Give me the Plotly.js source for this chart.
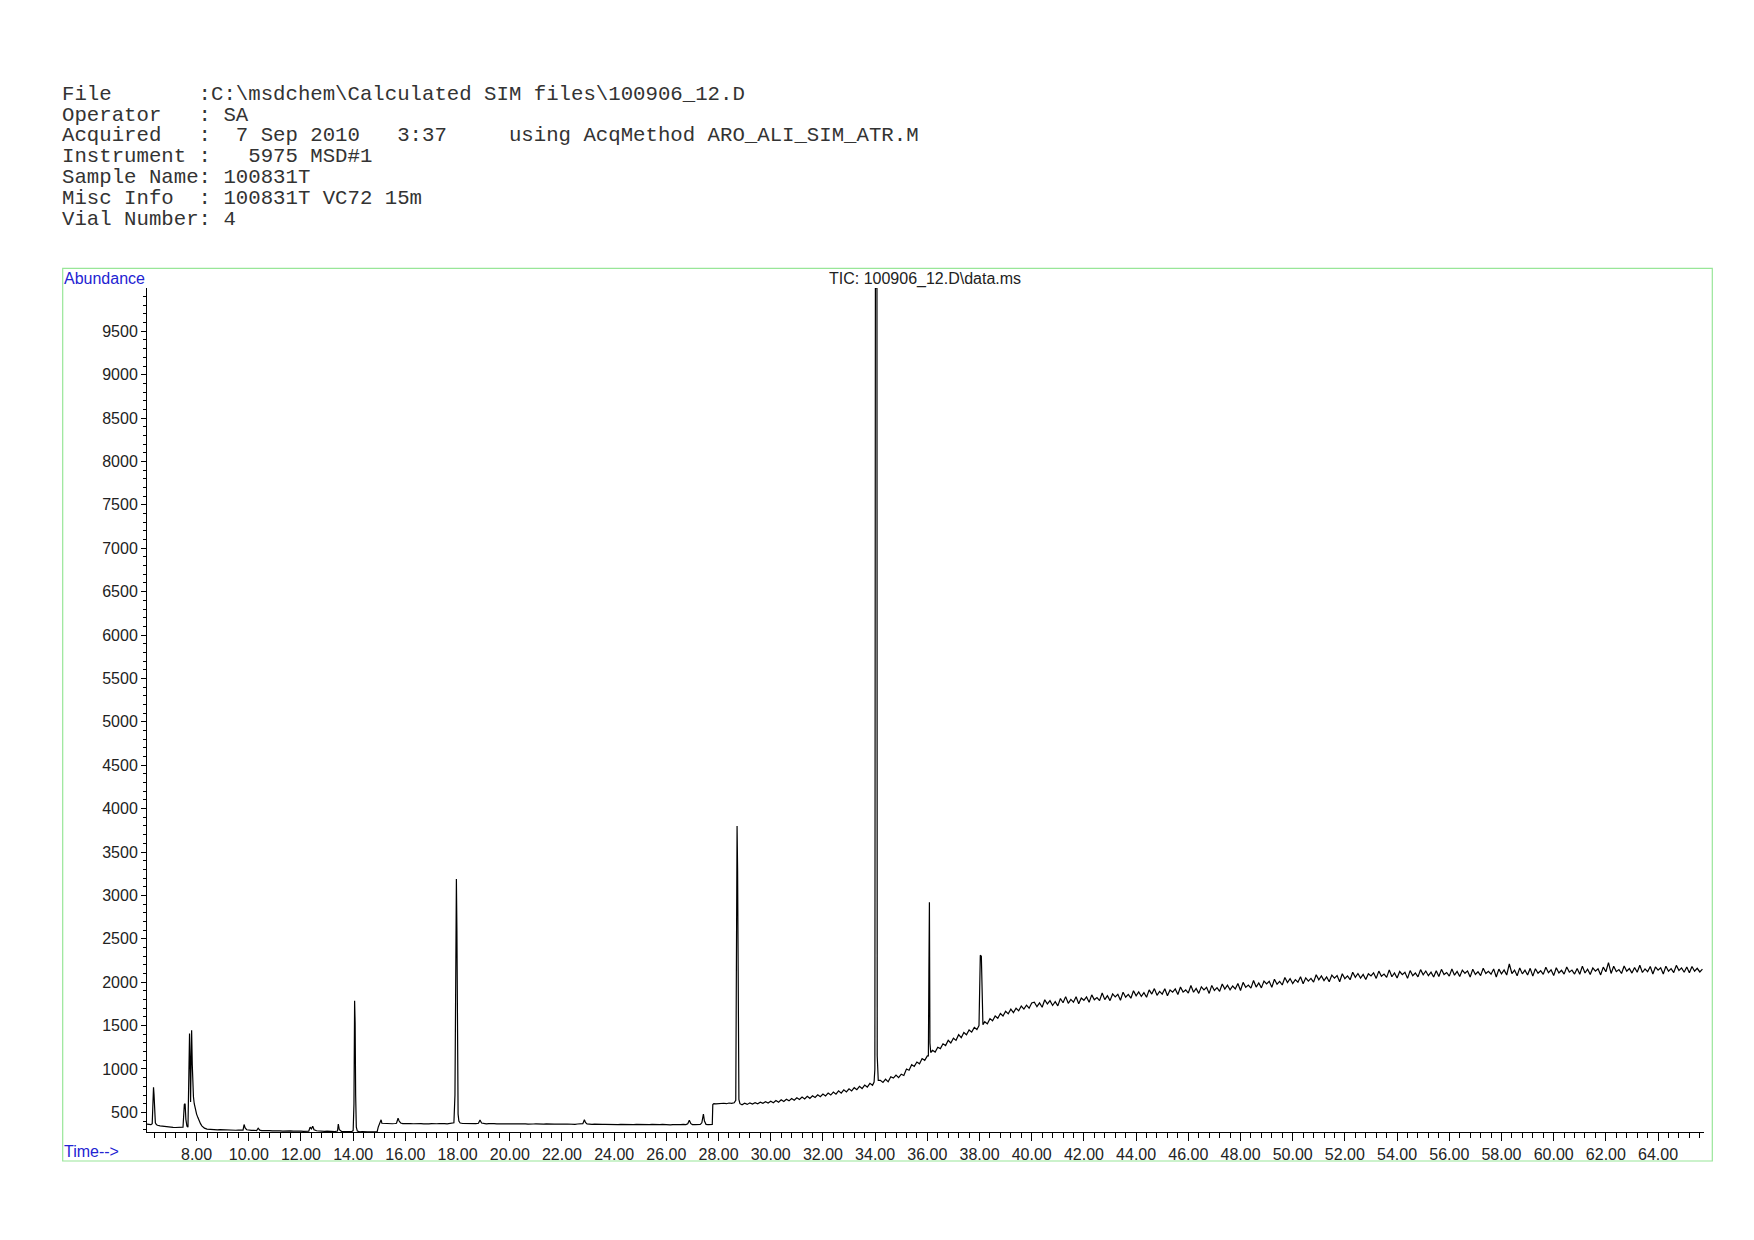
<!DOCTYPE html>
<html>
<head>
<meta charset="utf-8">
<script src="https://cdn.plot.ly/plotly-3.0.1.min.js"></script>
<style>html,body{margin:0;padding:0;background:#fff;}</style>
</head>
<body>
<div id="chart" style="width:1754px;height:1240px;"></div>
<script>
// ---------------- DATA ----------------
const headerLines = [
  "File       :C:\\msdchem\\Calculated SIM files\\100906_12.D",
  "Operator   : SA",
  "Acquired   :  7 Sep 2010   3:37     using AcqMethod ARO_ALI_SIM_ATR.M",
  "Instrument :   5975 MSD#1",
  "Sample Name: 100831T",
  "Misc Info  : 100831T VC72 15m",
  "Vial Number: 4"
];
const chartTitle = "TIC: 100906_12.D\\data.ms";
const yLabel = "Abundance";
const xLabel = "Time-->";

const earlyTime = [6.10,6.15,6.20,6.25,6.30,6.33,6.35,6.37,6.39,6.42,6.46,6.50,6.60,6.70,6.80,6.90,7.00,7.10,7.20,7.30,7.40,7.48,7.53,7.56,7.59,7.63,7.67,7.70,7.73,7.755,7.77,7.79,7.81,7.835,7.86,7.88,7.91,7.95,8.00,8.05,8.10,8.15,8.20,8.25,8.30,8.40,8.50,8.60,8.70,8.80,8.90,9.00,9.10,9.20,9.30,9.40,9.50,9.60,9.70,9.78,9.82,9.86,9.92,10.00,10.10,10.20,10.30,10.36,10.42,10.50,10.60,10.70,10.80,10.90,11.00,11.10,11.20,11.30,11.40,11.50,11.60,11.70,11.80,11.90,12.00,12.10,12.20,12.30,12.35,12.40,12.45,12.50,12.60,12.70,12.80,12.90,13.00,13.10,13.20,13.30,13.40,13.43,13.47,13.55,13.65,13.75,13.85,13.95,14.00,14.03,14.055,14.075,14.095,14.12,14.16,14.25,14.35,14.45,14.55,14.65,14.75,14.85,14.92,14.96,15.00,15.04,15.07];
const earlyAbund = [365,360,362,358,370,650,790,700,450,380,360,352,345,340,335,332,330,328,326,327,325,330,590,600,420,340,330,700,1410,1000,620,1100,1445,1050,760,680,600,540,480,440,400,370,345,330,318,308,305,300,303,298,302,300,298,297,300,296,294,297,293,295,360,320,300,295,292,294,290,318,295,290,292,288,290,287,289,286,288,285,287,284,286,283,285,282,284,282,283,285,330,310,340,300,288,284,283,281,284,280,282,280,285,365,300,282,280,281,279,280,290,600,1785,1530,700,330,285,275,278,274,277,275,278,276,279,330,370,395,415];

const midTime = [15.10,15.20,15.30,15.40,15.50,15.60,15.66,15.72,15.76,15.82,15.90,16.00,16.10,16.20,16.30,16.40,16.50,16.60,16.70,16.80,16.90,17.00,17.10,17.20,17.30,17.40,17.50,17.60,17.70,17.80,17.86,17.90,17.93,17.955,17.975,17.99,18.02,18.05,18.10,18.20,18.30,18.40,18.50,18.60,18.70,18.80,18.86,18.92,19.00,19.10,19.20,19.30,19.40,19.50,19.60,19.70,19.80,19.90,20.00,20.10,20.20,20.30,20.40,20.50,20.60,20.70,20.80,20.90,21.00,21.10,21.20,21.30,21.40,21.50,21.60,21.70,21.80,21.90,22.00,22.10,22.20,22.30,22.40,22.50,22.60,22.70,22.80,22.86,22.90,22.96,23.05,23.15,23.25,23.35,23.45,23.55,23.65,23.75,23.85,23.95,24.05,24.15,24.25,24.35,24.45,24.55,24.65,24.75,24.85,24.95,25.05,25.15,25.25,25.35,25.45,25.55,25.65,25.75,25.85,25.95,26.05,26.15,26.25,26.35,26.45,26.55,26.65,26.75,26.82,26.88,26.94,27.00,27.10,27.20,27.30,27.36,27.42,27.46,27.52,27.60,27.70,27.76,27.78,27.82,27.90];
const midAbund = [375,372,370,373,369,372,375,432,400,378,370,372,368,371,369,372,368,370,367,371,368,370,366,369,371,367,370,368,370,372,380,700,2300,3190,2600,900,480,400,378,372,370,368,371,369,370,375,412,378,370,368,371,367,370,368,371,366,369,367,370,366,369,367,370,366,368,365,369,366,368,365,367,364,368,365,367,364,366,363,366,364,366,363,365,363,366,364,370,415,385,368,364,362,365,362,364,361,363,361,364,361,363,360,362,360,363,360,362,359,361,359,362,359,361,358,361,358,360,358,361,358,360,357,360,358,361,358,362,360,368,410,370,360,358,360,362,380,480,400,362,358,360,362,590,600,598];

const lateTime = [28.00,28.10,28.20,28.30,28.40,28.50,28.60,28.66,28.69,28.71,28.73,28.75,28.78,28.82,28.90,29.00,29.10,29.20,29.30,29.40,29.50,29.60,29.70,29.80,29.90,30.00,30.10,30.20,30.30,30.40,30.50,30.60,30.70,30.80,30.90,31.00,31.10,31.20,31.30,31.40,31.50,31.60,31.70,31.80,31.90,32.00,32.10,32.20,32.30,32.40,32.50,32.60,32.70,32.80,32.90,33.00,33.10,33.20,33.30,33.40,33.50,33.60,33.70,33.80,33.90,33.96,33.99,34.01,34.07,34.08,34.12,
34.2,34.3,34.4,34.5,34.6,34.7,34.8,34.9,35.0,35.1,35.2,35.3,35.4,35.5,35.6,35.7,35.8,35.9,36.0,36.04,36.06,36.08,36.10,36.13,36.2,36.3,36.4,36.5,36.6,36.7,36.8,36.9,37.0,37.1,37.2,37.3,37.4,37.5,37.6,37.7,37.8,37.9,37.98,38.00,38.03,38.07,38.10,38.13,38.2,38.3,38.4,38.5,38.6,38.7,38.8,38.9,39.0,39.1,39.2,39.3,39.4,39.5,39.6,39.7,39.8,39.9,40.0,
40.1,40.2,40.3,40.4,40.5,40.6,40.7,40.8,40.9,41.0,41.1,41.2,41.3,41.4,41.5,41.6,41.7,41.8,41.9,42.0,42.1,42.2,42.3,42.4,42.5,42.6,42.7,42.8,42.9,43.0,43.1,43.2,43.3,43.4,43.5,43.6,43.7,43.8,43.9,44.0,44.1,44.2,44.3,44.4,44.5,44.6,44.7,44.8,44.9,45.0,45.1,45.2,45.3,45.4,45.5,45.6,45.7,45.8,45.9,46.0,46.1,46.2,46.3,46.4,46.5,46.6,46.7,46.8,46.9,47.0,47.1,47.2,47.3,47.4,47.5,47.6,47.7,47.8,47.9,48.0,48.1,48.2,48.3,48.4,48.5,48.6,48.7,48.8,48.9,49.0,49.1,49.2,49.3,49.4,49.5,49.6,49.7,49.8,49.9,50.0,
50.1,50.2,50.3,50.4,50.5,50.6,50.7,50.8,50.9,51.0,51.1,51.2,51.3,51.4,51.5,51.6,51.7,51.8,51.9,52.0,52.1,52.2,52.3,52.4,52.5,52.6,52.7,52.8,52.9,53.0,53.1,53.2,53.3,53.4,53.5,53.6,53.7,53.8,53.9,54.0,54.1,54.2,54.3,54.4,54.5,54.6,54.7,54.8,54.9,55.0,55.1,55.2,55.3,55.4,55.5,55.6,55.7,55.8,55.9,56.0,56.1,56.2,56.3,56.4,56.5,56.6,56.7,56.8,56.9,57.0,57.1,57.2,57.3,57.4,57.5,57.6,57.7,57.8,57.9,58.0,58.1,58.2,58.3,58.4,58.5,58.6,58.7,58.8,58.9,59.0,59.1,59.2,59.3,59.4,59.5,59.6,59.7,59.8,59.9,60.0,
60.1,60.2,60.3,60.4,60.5,60.6,60.7,60.8,60.9,61.0,61.1,61.2,61.3,61.4,61.5,61.6,61.7,61.8,61.9,62.0,62.1,62.2,62.3,62.4,62.5,62.6,62.7,62.8,62.9,63.0,63.1,63.2,63.3,63.4,63.5,63.6,63.7,63.8,63.9,64.0,64.1,64.2,64.3,64.4,64.5,64.6,64.7,64.8,64.9,65.0,65.1,65.2,65.3,65.4,65.5,65.6,65.7];
const lateAbund = [602,598,605,600,608,603,610,640,2300,3800,3290,1200,650,600,588,605,592,610,596,612,600,618,604,622,608,628,612,636,618,645,625,652,633,660,640,668,648,676,655,685,662,692,672,703,680,712,690,722,700,735,710,748,722,760,735,772,748,785,762,800,775,815,792,835,812,850,1000,10000,10000,1150,870,
870,845,882,852,910,895,930,900,940,925,1000,985,1050,1030,1080,1060,1120,1100,1150,1150,2100,2920,1300,1190,1215,1195,1250,1235,1290,1270,1330,1300,1355,1330,1395,1360,1420,1395,1450,1425,1480,1455,1500,1740,2310,2300,1560,1510,1545,1520,1580,1555,1610,1585,1640,1610,1665,1635,1690,1650,1700,1670,1725,1690,1735,1700,1760,
1769,1718,1762,1711,1797,1749,1788,1732,1776,1727,1813,1763,1834,1757,1802,1770,1832,1751,1818,1792,1831,1768,1854,1797,1823,1788,1876,1799,1845,1788,1865,1831,1861,1792,1885,1827,1859,1816,1901,1843,1888,1836,1879,1827,1912,1863,1926,1849,1894,1863,1925,1844,1911,1885,1923,1859,1944,1886,1911,1875,1962,1884,1929,1871,1947,1912,1941,1871,1963,1905,1937,1894,1979,1921,1965,1913,1956,1922,1985,1905,1998,1941,1967,1932,2020,1944,1991,1935,2013,1980,2010,1941,2034,1977,2010,1968,2054,1997,2042,1985,
2030,1999,2062,1982,2050,2012,2044,2001,2086,2028,2072,2019,2061,2006,2082,2047,2076,2006,2098,2040,2072,2029,2114,2056,2100,2047,2089,2031,2098,2072,2109,2044,2128,2069,2093,2056,2142,2063,2107,2048,2123,2087,2115,2044,2134,2075,2106,2062,2145,2086,2129,2075,2115,2059,2132,2065,2148,2089,2112,2070,2153,2081,2124,2065,2139,2103,2130,2059,2149,2090,2121,2076,2160,2100,2126,2092,2153,2060,2151,2097,2142,2083,2210,2100,2140,2075,2165,2096,2139,2084,2160,2070,2155,2104,2132,2090,2172,2110,2143,2076,
2166,2106,2137,2093,2176,2116,2139,2094,2158,2092,2185,2106,2149,2090,2164,2128,2155,2084,2174,2120,2225,2101,2184,2122,2145,2100,2186,2127,2157,2105,2170,2115,2196,2112,2154,2121,2181,2094,2176,2139,2167,2095,2185,2126,2156,2111,2194,2135,2165,2115,2175,2108,2181,2126,2160,2118,2150];

const xRange = [6.10, 65.76];
const yRange = [274, 9999];

// ---------------- LAYOUT GEOMETRY ----------------
const W = 1754, H = 1240;
const PL = 147, PR = 1704, PT = 288, PB = 1132;
const px = x => (x - PL) / (PR - PL);
const py = y => (PB - y) / (PB - PT);

const time = earlyTime.concat(midTime, lateTime);
const abund = earlyAbund.concat(midAbund, lateAbund);

const sans = "Liberation Sans, Arial, sans-serif";
const mono = "Liberation Mono, Courier New, monospace";
const blue = "#2323d2";

const headerY = [94.2, 115.4, 135.9, 156.8, 177.2, 198.2, 219.3];
const annotations = headerLines.map((t, i) => ({
  text: t.replace(/ /g, "\u00A0"),
  xref: "paper", yref: "paper", x: px(60), y: py(headerY[i]),
  xanchor: "left", yanchor: "middle", showarrow: false,
  font: {family: mono, size: 20.7, color: "#333"}
}));
annotations.push({
  text: yLabel, xref: "paper", yref: "paper", x: px(62), y: py(278.5),
  xanchor: "left", yanchor: "middle", showarrow: false,
  font: {family: sans, size: 16, color: blue}
});
annotations.push({
  text: xLabel, xref: "paper", yref: "paper", x: px(62), y: py(1151),
  xanchor: "left", yanchor: "middle", showarrow: false,
  font: {family: sans, size: 16, color: blue}
});
annotations.push({
  text: chartTitle, xref: "paper", yref: "paper", x: px(925), y: py(279),
  xanchor: "center", yanchor: "middle", showarrow: false,
  font: {family: sans, size: 16, color: "#222"}
});

const layout = {
  width: W, height: H, autosize: false,
  margin: {l: PL, r: W - PR, t: PT, b: H - PB, pad: 0},
  paper_bgcolor: "#fff", plot_bgcolor: "#fff",
  showlegend: false,
  xaxis: {
    range: xRange, showgrid: false, zeroline: false,
    showline: true, linecolor: "#000", linewidth: 1,
    ticks: "outside", ticklen: 8, tickcolor: "#000", tickwidth: 1,
    dtick: 2, tick0: 0, tickformat: ".2f",
    tickfont: {family: sans, size: 16, color: "#222"},
    minor: {dtick: 0.4, tick0: 0, ticks: "outside", ticklen: 5, tickcolor: "#000", tickwidth: 1, showgrid: false}
  },
  yaxis: {
    range: yRange, showgrid: false, zeroline: false,
    showline: true, linecolor: "#000", linewidth: 1,
    ticks: "outside", ticklen: 5, tickcolor: "#000", tickwidth: 1,
    dtick: 500, tick0: 0, tickformat: "d",
    tickfont: {family: sans, size: 16, color: "#222"},
    minor: {dtick: 100, tick0: 0, ticks: "outside", ticklen: 3, tickcolor: "#000", tickwidth: 1, showgrid: false}
  },
  shapes: [{
    type: "rect", xref: "paper", yref: "paper",
    x0: px(62.7), x1: px(1712.3), y0: py(1161), y1: py(268.3),
    line: {color: "#98e698", width: 1.2}, fillcolor: "rgba(0,0,0,0)", layer: "below"
  }],
  annotations: annotations
};

const trace = {
  x: time, y: abund, type: "scatter", mode: "lines",
  line: {color: "#000", width: 1.2}, hoverinfo: "skip"
};

Plotly.newPlot("chart", [trace], layout, {staticPlot: true, displayModeBar: false});
</script>
</body>
</html>
